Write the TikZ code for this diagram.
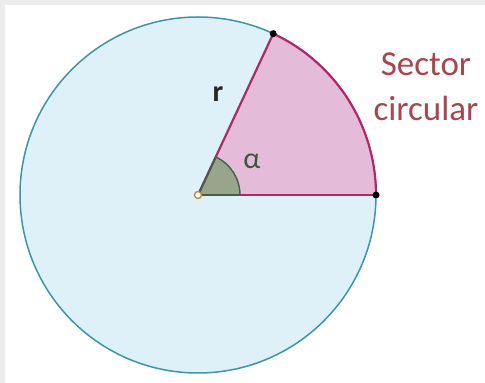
\documentclass[tikz,border=0pt]{standalone}
\usepackage{fontspec}
\setmainfont{Carlito}
\usepackage{tikz}
\usetikzlibrary{calc}
\definecolor{disc}{RGB}{222,241,248}
\definecolor{rim}{RGB}{58,150,168}
\definecolor{sectorfill}{RGB}{228,188,218}
\definecolor{sectorline}{RGB}{178,40,100}
\definecolor{anglefill}{RGB}{150,165,140}
\definecolor{angleline}{RGB}{70,95,70}
\definecolor{caption}{RGB}{170,68,78}

\begin{document}
\begin{tikzpicture}[
  x=1pt,y=1pt,
  dot/.style={circle,fill=black,inner sep=0pt,minimum size=7pt},
  centre/.style={circle,draw=brown!80!orange,fill=white,line width=1.3pt,inner sep=0pt,minimum size=7pt},
  label/.style={inner sep=1pt,font=\fontsize{30}{36}\selectfont},
]
% frame
\fill[black!7] (0,0) rectangle (485,383);
\fill[white] (5,0) rectangle (485,378);
\useasboundingbox (0,0) rectangle (485,383);

\coordinate (O) at (198,188);
\coordinate (A) at ($(O)+(0:178)$);
\coordinate (B) at ($(O)+(65:178)$);

% circle and sector
\draw[rim,fill=disc,line width=1.5pt] (O) circle (178);
\fill[sectorfill] (O) -- (A) arc (0:65:178) -- cycle;
\draw[sectorline,line width=2.2pt] (B) arc (65:0:178);
\fill[anglefill] (O) -- ($(O)+(42,0)$) arc (0:65:42) -- cycle;
\draw[angleline,line width=1.4pt] ($(O)+(42,0)$) arc (0:65:42);
\draw[sectorline,line width=2.2pt] (O) -- (A);
\draw[sectorline,line width=2.2pt] (O) -- (B);
\draw[angleline,line width=1.8pt] (O) -- ($(O)+(42,0)$);
\draw[angleline,line width=1.8pt] (O) -- ($(O)+(65:42)$);

\node[dot] (right) at (A) {};
\node[dot] (top) at (B) {};
\node[centre] (middle) at (O) {};

% labels
\node[label,text=black!85] (radius) at (218,289) {\bfseries r};
\node[label,text=angleline!90!black] (alpha) at (252,222) {α};
\node[align=center,text=caption,font=\fontsize{35}{45}\selectfont] (name) at (426,296) {Sector\\circular};
\end{tikzpicture}
\end{document}
